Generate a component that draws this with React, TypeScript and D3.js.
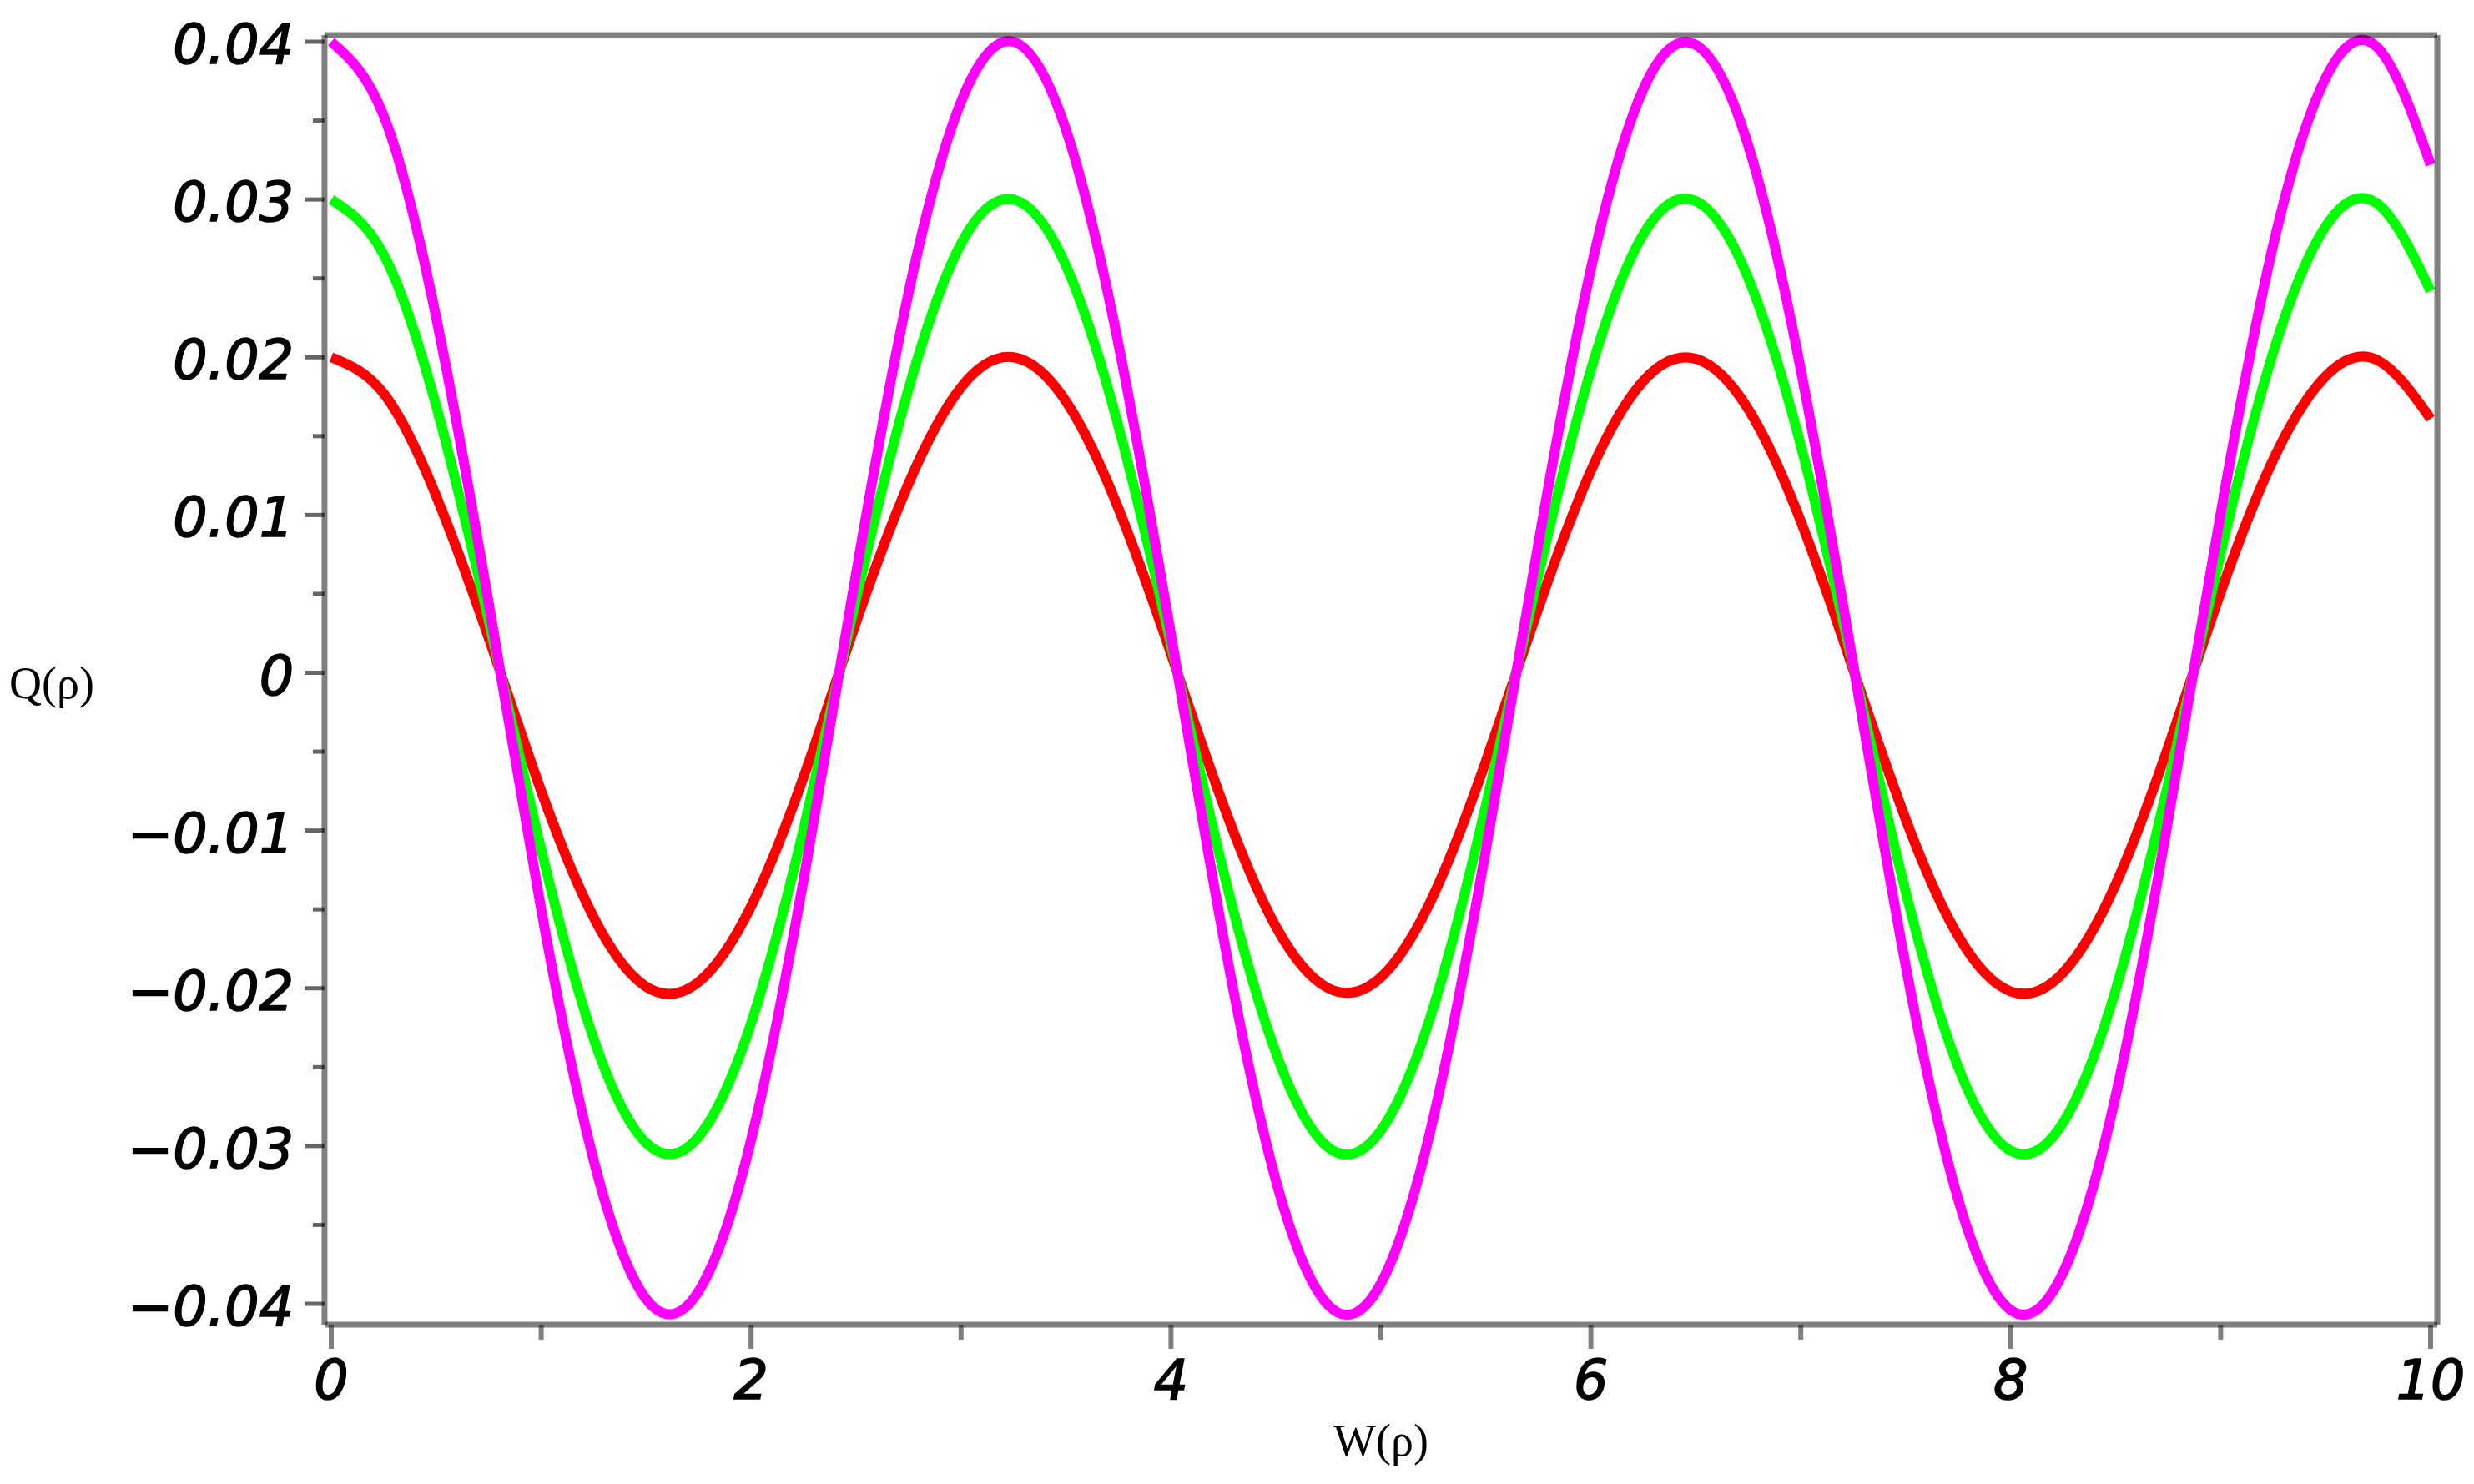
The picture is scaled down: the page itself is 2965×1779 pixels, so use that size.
import * as d3 from "d3";

const wValues = [
  0, 0.25, 0.5, 0.75, 1, 1.25, 1.5, 1.75, 2, 2.25, 2.5, 2.75, 3, 3.25, 3.5, 3.75, 4, 4.25, 4.5, 4.75,
  5, 5.25, 5.5, 5.75, 6, 6.25, 6.5, 6.75, 7, 7.25, 7.5, 7.75, 8, 8.25, 8.5, 8.75, 9, 9.25, 9.5, 9.75, 10,
];

const qRed = [
  0.02, 0.0177, 0.0112, 0.0022, -0.0075, -0.0155, -0.0199, -0.0196, -0.0148, -0.0066, 0.0032,
  0.012, 0.0181, 0.02, 0.0172, 0.0104, 0.0012, -0.0084, -0.0161, -0.02, -0.0193, -0.0141,
  -0.0056, 0.0041, 0.0128, 0.0185, 0.0199, 0.0167, 0.0096, 0.0002, -0.0093, -0.0167, -0.0202,
  -0.019, -0.0134, -0.0047, 0.0051, 0.0135, 0.0188, 0.0198, 0.0161,
];

const qGreen = [
  0.03, 0.0265, 0.0169, 0.0033, -0.0112, -0.0232, -0.0298, -0.0294, -0.0222, -0.0099, 0.0047,
  0.018, 0.0272, 0.03, 0.0258, 0.0156, 0.0018, -0.0126, -0.0241, -0.0301, -0.029, -0.0212,
  -0.0084, 0.0062, 0.0192, 0.0278, 0.0299, 0.025, 0.0144, 0.0004, -0.0139, -0.025, -0.0303,
  -0.0285, -0.0201, -0.007, 0.0076, 0.0203, 0.0283, 0.0297, 0.0242,
];

const qMagenta = [
  0.04, 0.0353, 0.0225, 0.0044, -0.015, -0.0309, -0.0397, -0.0392, -0.0296, -0.0131, 0.0063,
  0.0241, 0.0362, 0.04, 0.0344, 0.0208, 0.0024, -0.0168, -0.0322, -0.0401, -0.0387, -0.0282,
  -0.0112, 0.0082, 0.0256, 0.037, 0.0398, 0.0334, 0.0192, 0.0005, -0.0186, -0.0334, -0.0404,
  -0.038, -0.0268, -0.0093, 0.0101, 0.0271, 0.0377, 0.0396, 0.0322,
];

const seriesOrder = [
  { name: "red", values: qRed, color: "#ff0000" },
  { name: "green", values: qGreen, color: "#00ff00" },
  { name: "magenta", values: qMagenta, color: "#ff00ff" },
];

const xTicks = [0, 2, 4, 6, 8, 10];
const xTickLabels = ["0", "2", "4", "6", "8", "10"];
const xMinorTicks = [1, 3, 5, 7, 9];

const yTicks = [0.04, 0.03, 0.02, 0.01, 0, -0.01, -0.02, -0.03, -0.04];
const yTickLabels = ["0.04", "0.03", "0.02", "0.01", "0", "\u22120.01", "\u22120.02", "\u22120.03", "\u22120.04"];
const yMinorTicks = [0.035, 0.025, 0.015, 0.005, -0.005, -0.015, -0.025, -0.035];

// the box sits a little outside the tick range
const frameX = [-0.032, 10.032];
const frameY = [-0.04132, 0.04042];

export default function App() {
  const width = 2965;
  const height = 1779;

  const x = d3.scaleLinear().domain([0, 10]).range([397, 2913]);
  const y = d3.scaleLinear().domain([-0.04, 0.04]).range([1563, 50]);

  // samples are evenly spaced, so the natural spline stays true to the shape
  const line = d3
    .line<[number, number]>()
    .x((d) => x(d[0]))
    .y((d) => y(d[1]))
    .curve(d3.curveNatural);

  const left = x(frameX[0]);
  const right = x(frameX[1]);
  const top = y(frameY[1]);
  const bottom = y(frameY[0]);

  const tickFont = {
    fontFamily: "'DejaVu Sans', Verdana, sans-serif",
    fontStyle: "italic" as const,
    fontSize: 65,
    fill: "#000",
    stroke: "#000",
    strokeWidth: 1.6,
  };
  const titleFont = {
    fontFamily: "'Liberation Serif', 'Times New Roman', serif",
    fontSize: 54,
    fill: "#000",
  };

  return (
    <svg
      width={width}
      height={height}
      viewBox={`0 0 ${width} ${height}`}
      style={{ position: "absolute", left: 0, top: 0, display: "block", background: "#fff" }}
    >
      <rect x={0} y={0} width={width} height={height} fill="#fff" />

      {seriesOrder.map((s) => (
        <path
          key={s.name}
          d={line(wValues.map((w, i) => [w, s.values[i]] as [number, number])) ?? ""}
          fill="none"
          stroke={s.color}
          strokeWidth={12}
          strokeLinejoin="round"
        />
      ))}

      {/* frame */}
      <g stroke="#000" strokeOpacity={0.5} strokeWidth={7} fill="none">
        <line x1={left} x2={right} y1={top} y2={top} />
        <line x1={right} x2={right} y1={top} y2={bottom} />
        <line x1={left} x2={left} y1={top} y2={bottom} />
        <line x1={left} x2={right} y1={bottom} y2={bottom} />
      </g>

      {/* y ticks */}
      <g stroke="#000" strokeOpacity={0.6} strokeWidth={5}>
        {yTicks.map((t) => (
          <line key={`ym${t}`} x1={left - 24} x2={left} y1={y(t)} y2={y(t)} />
        ))}
        {yMinorTicks.map((t) => (
          <line key={`yn${t}`} x1={left - 14} x2={left} y1={y(t)} y2={y(t)} />
        ))}
      </g>
      {yTicks.map((t, i) => (
        <text key={`yl${t}`} x={352} y={y(t) + 26} textAnchor="end" style={tickFont}>
          {yTickLabels[i]}
        </text>
      ))}

      {/* x ticks */}
      <g stroke="#000" strokeOpacity={0.5} strokeWidth={6}>
        {xTicks.map((t) => (
          <line key={`xm${t}`} x1={x(t)} x2={x(t)} y1={bottom} y2={bottom + 29} />
        ))}
        {xMinorTicks.map((t) => (
          <line key={`xn${t}`} x1={x(t)} x2={x(t)} y1={bottom} y2={bottom + 18} />
        ))}
      </g>
      {xTicks.map((t, i) => (
        <text key={`xl${t}`} x={x(t)} y={1677} textAnchor="middle" style={tickFont}>
          {xTickLabels[i]}
        </text>
      ))}

      {/* axis titles */}
      <text x={62} y={837} textAnchor="middle" style={titleFont}>
        Q(ρ)
      </text>
      <text x={x(5)} y={1745} textAnchor="middle" style={titleFont}>
        W(ρ)
      </text>
    </svg>
  );
}
